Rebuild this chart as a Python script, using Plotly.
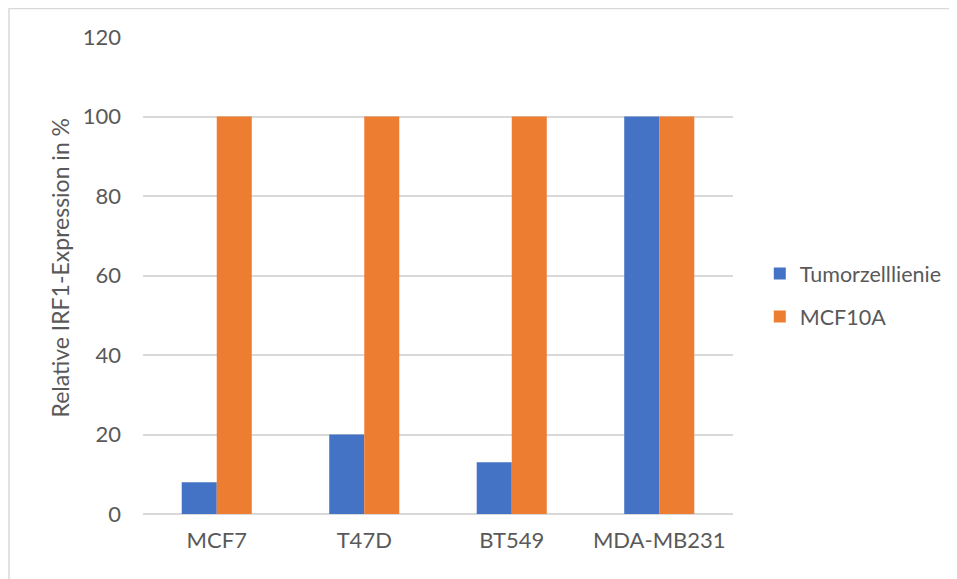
import plotly.graph_objects as go

categories = ["MCF7", "T47D", "BT549", "MDA-MB231"]
tumor = [8, 20, 13, 100]
mcf10a = [100, 100, 100, 100]
y_ticks = [0, 20, 40, 60, 80, 100, 120]
y_title = "Relative IRF1-Expression in %"

fig = go.Figure()
fig.add_trace(go.Bar(x=categories, y=tumor, name="Tumorzelllienie",
                     marker=dict(color="#4472C4", line=dict(width=0)),
                     legendgroup="a"))
fig.add_trace(go.Bar(x=categories, y=mcf10a, name="MCF10A",
                     marker=dict(color="#ED7D31", line=dict(width=0)),
                     legendgroup="b"))

font = "Lato"
fig.update_layout(
    width=957, height=579,
    margin=dict(l=135, r=232, t=29, b=73, autoexpand=False),
    paper_bgcolor="white", plot_bgcolor="white",
    barmode="group", bargap=0.525, bargroupgap=0,
    font=dict(family=font, size=22, color="#595959"),
    legend=dict(x=1.0454, y=0.459, xanchor="left", yanchor="middle",
                font=dict(family=font, size=21.5, color="#595959"),
                tracegroupgap=12, itemwidth=30),
    showlegend=True,
)
fig.update_xaxes(showgrid=False, showline=False, ticks="",
                 ticklabelstandoff=11,
                 tickfont=dict(family=font, size=22, color="#595959"))
fig.update_yaxes(range=[0, 120], tickvals=y_ticks, showgrid=True,
                 gridcolor="#D9D9D9", gridwidth=1.5, zeroline=True,
                 zerolinecolor="#D9D9D9", zerolinewidth=1.5,
                 ticks="", ticklen=0, ticklabelstandoff=21,
                 tickfont=dict(family=font, size=22, color="#595959"))
fig.add_annotation(text=y_title, textangle=-90, showarrow=False,
                   xref="paper", yref="paper",
                   x=(51 - 135) / 590, y=(506 - 259.5) / 477,
                   xanchor="center", yanchor="middle",
                   font=dict(family=font, size=23, color="#595959"))
fig.add_shape(type="rect", xref="paper", yref="paper",
              x0=-134/590, x1=1.5, y0=-0.3, y1=1 + 28.5/477,
              line=dict(color="#D9D9D9", width=1.5), fillcolor="rgba(0,0,0,0)")

fig.write_html("out.html")
